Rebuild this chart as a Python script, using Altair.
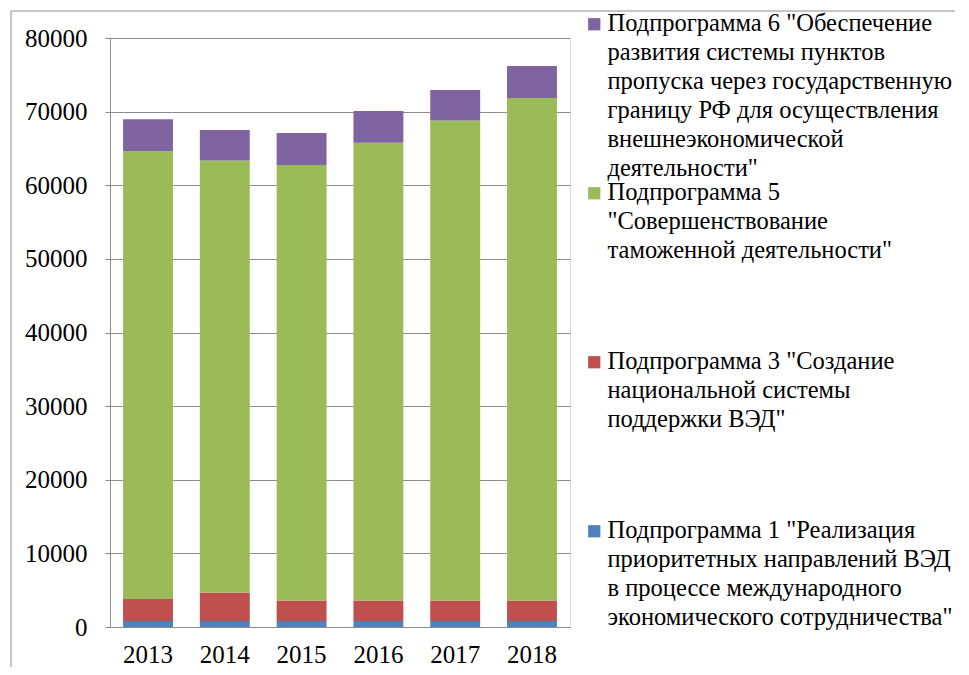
import altair as alt
import pandas as pd

years = ["2013", "2014", "2015", "2016", "2017", "2018"]

# values of each sub-programme (stacked)
sub1 = [800, 800, 800, 800, 800, 800]
sub3 = [3000, 3870, 2800, 2800, 2800, 2800]
sub5 = [60830, 58700, 59140, 62170, 65210, 68240]
sub6 = [4350, 4120, 4350, 4310, 4120, 4350]

lab1 = 'Подпрограмма 1 "Реализация|приоритетных направлений ВЭД|в процессе международного|экономического  сотрудничества"'
lab3 = 'Подпрограмма 3 "Создание|национальной системы|поддержки ВЭД"'
lab5 = 'Подпрограмма 5|"Совершенствование|таможенной деятельности"'
lab6 = 'Подпрограмма 6 "Обеспечение|развития системы пунктов|пропуска через государственную|границу РФ для осуществления|внешнеэкономической|деятельности"'

series = [(lab1, sub1, 1), (lab3, sub3, 2), (lab5, sub5, 3), (lab6, sub6, 4)]
rows = []
for lab, vals, k in series:
    for y, v in zip(years, vals):
        rows.append({"year": y, "series": lab, "value": v, "k": k})
df = pd.DataFrame(rows)

legend_order = [lab6, lab5, lab3, lab1]
colors = ["#8064A2", "#9BBB59", "#C0504D", "#4F81BD"]

FONT = "Liberation Serif"
GRAY = "#8c8c8c"

bars = alt.Chart(df).mark_bar().encode(
    x=alt.X("year:N", title=None,
            scale=alt.Scale(paddingInner=0.35, paddingOuter=0.17),
            axis=alt.Axis(labelAngle=0, ticks=False, labelFont=FONT, labelFontSize=25,
                          labelColor="black", labelPadding=15, domainColor=GRAY, grid=False)),
    y=alt.Y("value:Q", stack="zero", title=None,
            scale=alt.Scale(domain=[0, 80000], nice=False),
            axis=alt.Axis(values=list(range(0, 80001, 10000)), format="d",
                          labelFont=FONT, labelFontSize=25, labelColor="black",
                          tickSize=5, tickColor=GRAY, domainColor=GRAY,
                          gridColor=GRAY, labelPadding=18)),
    color=alt.Color("series:N", scale=alt.Scale(domain=legend_order, range=colors),
                    legend=alt.Legend(title=None, orient="none", legendX=472, legendY=-26,
                                      symbolType="square", symbolSize=150, symbolStrokeWidth=0,
                                      labelFont=FONT, labelFontSize=24.5, labelColor="black",
                                      labelLimit=600, labelOffset=1,
                                      labelExpr="split(datum.label, '|')",
                                      gridAlign="all", rowPadding=-2)),
    order=alt.Order("k:Q", sort="ascending"),
)

one = pd.DataFrame({"a": [0]})
frame_left = alt.Chart(one).mark_rule(color=GRAY, strokeWidth=1).encode(
    x=alt.value(-99), y=alt.value(-27), y2=alt.value(700))
frame_top = alt.Chart(one).mark_rule(color=GRAY, strokeWidth=1).encode(
    x=alt.value(-99), x2=alt.value(900), y=alt.value(-27))

chart = alt.layer(bars, frame_left, frame_top).properties(
    width=460, height=589,
    autosize=alt.AutoSizeParams(type="none"),
    padding={"left": 102, "top": 30, "right": 385, "bottom": 40},
).configure_view(stroke=None).configure(
    style={"guide-label": {"lineHeight": 29}}
)

chart.save("out.html", embed_options={"renderer": "svg", "actions": False})
